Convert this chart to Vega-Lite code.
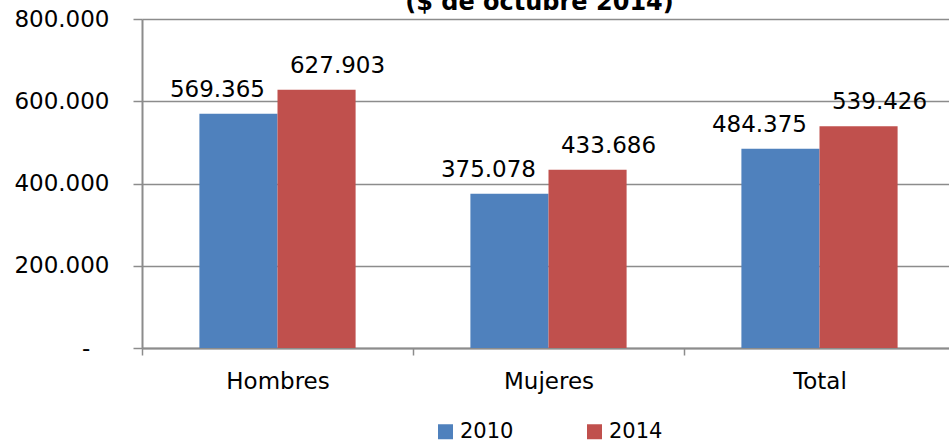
{
  "$schema": "https://vega.github.io/schema/vega-lite/v6.json",
  "width": 813,
  "height": 329,
  "autosize": {"type": "none"},
  "padding": {"left": 142, "top": 19, "right": 0, "bottom": 97},
  "config": {
    "locale": {"number": {"decimal": ",", "thousands": ".", "grouping": [3], "currency": ["$", ""]}},
    "font": "DejaVu Sans",
    "view": {"stroke": null},
    "background": "#ffffff"
  },
  "title": {
    "text": "($ de octubre 2014)",
    "fontSize": 24,
    "fontWeight": "bold",
    "font": "DejaVu Sans",
    "anchor": "middle",
    "frame": "group",
    "baseline": "alphabetic",
    "offset": 0,
    "dy": 26,
    "dx": -9,
    "color": "#000000"
  },
  "data": {
    "values": [
      {"sexo": "Hombres", "anio": "2010", "valor": 569365},
      {"sexo": "Hombres", "anio": "2014", "valor": 627903},
      {"sexo": "Mujeres", "anio": "2010", "valor": 375078},
      {"sexo": "Mujeres", "anio": "2014", "valor": 433686},
      {"sexo": "Total", "anio": "2010", "valor": 484375},
      {"sexo": "Total", "anio": "2014", "valor": 539426}
    ]
  },
  "encoding": {
    "x": {
      "field": "sexo",
      "type": "nominal",
      "sort": ["Hombres", "Mujeres", "Total"],
      "scale": {"paddingInner": 0, "paddingOuter": 0},
      "axis": {
        "title": null,
        "labelAngle": 0,
        "labelFontSize": 23,
        "labelColor": "#000000",
        "labelPadding": 15,
        "tickBand": "extent",
        "ticks": true,
        "tickSize": 7,
        "tickColor": "#8c8c8c",
        "tickWidth": 1.5,
        "domainColor": "#8c8c8c",
        "domainWidth": 2,
        "grid": false
      }
    },
    "xOffset": {
      "field": "anio",
      "type": "nominal",
      "scale": {"paddingInner": 0, "paddingOuter": 0.735}
    },
    "y": {
      "field": "valor",
      "type": "quantitative",
      "scale": {"domain": [0, 800000], "nice": false},
      "axis": {
        "title": null,
        "values": [0, 200000, 400000, 600000, 800000],
        "format": ",.0f",
        "labelExpr": "datum.value == 0 ? '-\u2007\u2009\u200b' : datum.label",
        "labelFontSize": 23,
        "labelColor": "#000000",
        "labelPadding": 24,
        "tickSize": 9,
        "tickColor": "#8c8c8c",
        "tickWidth": 1.5,
        "domainColor": "#8c8c8c",
        "domainWidth": 2,
        "grid": true,
        "gridColor": "#8c8c8c",
        "gridWidth": 1.5
      }
    }
  },
  "layer": [
    {
      "mark": {"type": "bar"},
      "encoding": {
        "color": {
          "field": "anio",
          "type": "nominal",
          "scale": {"domain": ["2010", "2014"], "range": ["#4f81bd", "#c0504d"]},
          "legend": {
            "title": null,
            "orient": "none",
            "legendX": 293,
            "legendY": 402,
            "direction": "horizontal",
            "symbolType": "square",
            "symbolSize": 225,
            "symbolStrokeWidth": 0,
            "symbolOpacity": 1,
            "labelFontSize": 21,
            "labelColor": "#000000",
            "labelOffset": 4,
            "columnPadding": 70,
            "padding": 0
          }
        }
      }
    },
    {
      "transform": [{"filter": "datum.anio == '2010'"}],
      "mark": {"type": "text", "dx": -21, "dy": -17, "baseline": "alphabetic", "fontSize": 23, "color": "#000000"},
      "encoding": {"text": {"field": "valor", "type": "quantitative", "format": ",.0f"}}
    },
    {
      "transform": [{"filter": "datum.anio == '2014'"}],
      "mark": {"type": "text", "dx": 21, "dy": -17, "baseline": "alphabetic", "fontSize": 23, "color": "#000000"},
      "encoding": {"text": {"field": "valor", "type": "quantitative", "format": ",.0f"}}
    }
  ]
}
